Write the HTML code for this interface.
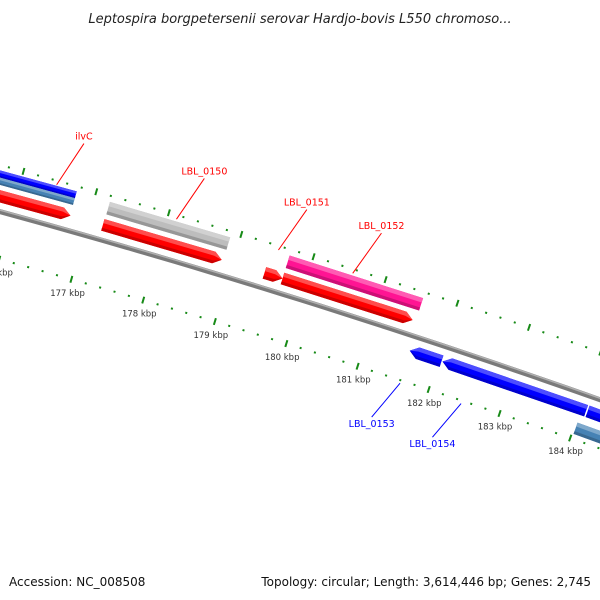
<!DOCTYPE html>
<html><head><meta charset="utf-8"><style>
html,body{margin:0;padding:0;background:#fff;width:600px;height:600px;overflow:hidden}
svg{display:block}
</style></head><body>
<svg id="map" width="600" height="600" viewBox="0 0 600 600" xmlns="http://www.w3.org/2000/svg">
<text x="300" y="23" text-anchor="middle" font-family="DejaVu Sans, sans-serif" font-style="italic" font-size="13" fill="#222">Leptospira borgpetersenii serovar Hardjo-bovis L550 chromoso...</text>
<g id="layer"></g>
<text x="9" y="586" font-family="DejaVu Sans, sans-serif" font-size="12" fill="#111">Accession: NC_008508</text>
<text x="591" y="586" text-anchor="end" font-family="DejaVu Sans, sans-serif" font-size="12" fill="#111">Topology: circular; Length: 3,614,446 bp; Genes: 2,745</text>
</svg>
<script>
const tickKbp=[172,173,174,175,176,177,178,179,180,181,182,183,184,185,186,187,188];
const featStart=[175000,175000,175000,177211,177204,179442,179693,179693,181597,182057,184100,184024];
const featEnd=[176757,176750,176750,178870,178849,179693,181506,181548,182043,184079,186500,186500];
const featStrand=[1,1,1,1,1,1,1,1,-1,-1,-1,-1];
const featRing=['r1','r2o','r2i','r2','r1','r1','r1','r2','m1','m1','m1','m2'];
const featColor=['#ff0000','#0000ff','#4682b4','#bdbdbd','#ff0000','#ff0000','#ff0000','#ff1493','#0000ff','#0000ff','#0000ff','#4682b4'];
const featArrow=[1,0,0,0,1,1,1,0,1,1,0,0];
const featNames=['ilvC-cds','ilvC-gene-blue','ilvC-gene-steel','lbl0150-gene','lbl0150-cds','small-cds','lbl0151-cds','lbl0152-gene','lbl0153-cds','lbl0154-cds','next-cds','next-gene'];
const labelText=['ilvC','LBL_0150','LBL_0151','LBL_0152','LBL_0153','LBL_0154'];
const labelBp=[176470,178120,179530,180560,181610,182470];
const labelColor=['#ff0000','#ff0000','#ff0000','#ff0000','#0000ff','#0000ff'];
const labelSide=[1,1,1,1,-1,-1];

const NS='http://www.w3.org/2000/svg';
const layer=document.getElementById('layer');
const CX=-2253,CY=8447,R=8538;
const PHI0=Math.atan2(300-CY,300-CX);
const K=75.2/(1000*R);
function pt(bp,r){const p=PHI0+(bp-180000)*K;return [CX+r*Math.cos(p),CY+r*Math.sin(p)];}
const rings={r1:[R+9,R+21],r2:[R+26,R+39],r2o:[R+33,R+40],r2i:[R+26,R+33],m1:[R-21,R-9],m2:[R-41,R-29]};
function mk(tag,attrs){const e=document.createElementNS(NS,tag);for(const k in attrs)e.setAttribute(k,attrs[k]);layer.appendChild(e);return e;}
function arcPath(b0,b1,r){let d='';for(let b=b0;b<=b1;b+=250){const p=pt(b,r);d+=(d?'L':'M')+p[0].toFixed(2)+' '+p[1].toFixed(2);}return d;}

// backbone
let bb=mk('path',{d:arcPath(170000,190000,R),stroke:'#7a7a7a','stroke-width':5,fill:'none'});


let bb2=mk('path',{d:arcPath(170000,190000,R+1.5),stroke:'#b0b0b0','stroke-width':1.5,fill:'none'});



// ticks
[R+45,R-46].forEach((rr,ri)=>{
  for(let i=0;i<tickKbp.length-1;i++){
    for(let j=0;j<5;j++){
      const b=tickKbp[i]*1000+j*200;
      const major=j===0;
      const a=pt(b,rr-(major?3.5:1)),c=pt(b,rr+(major?3.5:1));
      const t=mk('line',{x1:a[0],y1:a[1],x2:c[0],y2:c[1],stroke:'#178a17','stroke-width':2});
      
      
    }
  }
});
tickKbp.forEach(k=>{
  const p=pt(k*1000,R-60);
  const t=mk('text',{x:p[0],y:p[1]+3,'text-anchor':'middle','font-family':'DejaVu Sans, sans-serif','font-size':'8.5',fill:'#333'});
  t.textContent=k+' kbp';
  
  
});

// features
function shade(c,f){const n=parseInt(c.slice(1),16);let r=n>>16,g=(n>>8)&255,b=n&255;
  if(f>0){r=r+(255-r)*f;g=g+(255-g)*f;b=b+(255-b)*f;}else{r*=1+f;g*=1+f;b*=1+f;}
  return 'rgb('+Math.round(r)+','+Math.round(g)+','+Math.round(b)+')';}
featStart.forEach((s,i)=>{
  const e=featEnd[i],[ri,ro]=rings[featRing[i]],st=featStrand[i];
  const tip=featArrow[i]?110:0;
  const mid=(ri+ro)/2;
  function poly(r0,r1){
    let pts=[];
    if(st>0){
      const bEnd=e-tip;
      pts.push(pt(s,r0),pt(s,r1),pt(bEnd,r1));
      if(tip)pts.push(pt(e,mid));
      pts.push(pt(bEnd,r0));
    } else {
      const bS=s+tip;
      pts.push(pt(e,r0),pt(e,r1),pt(bS,r1));
      if(tip)pts.push(pt(s,mid));
      pts.push(pt(bS,r0));
    }
    return pts.map(p=>p[0].toFixed(2)+','+p[1].toFixed(2)).join(' ');
  }
  const g=mk('polygon',{points:poly(ri,ro),fill:featColor[i]});
  
  
  const h=mk('polygon',{points:poly(ro-(ro-ri)*0.35,ro),fill:shade(featColor[i],0.3)});
  
  
  const d=mk('polygon',{points:poly(ri,ri+(ro-ri)*0.25),fill:shade(featColor[i],-0.2)});
  
  
});

// labels
labelText.forEach((txt,i)=>{
  const side=labelSide[i];
  const a=pt(labelBp[i],side>0?R+41:R-49);
  const b=pt(labelBp[i]+(side>0?200:-220),side>0?R+88:R-90);
  const l=mk('line',{x1:a[0],y1:a[1],x2:b[0],y2:b[1],stroke:labelColor[i],'stroke-width':1});
  
  
  const t=mk('text',{x:b[0],y:side>0?b[1]-4:b[1]+10,'text-anchor':'middle','font-family':'DejaVu Sans, sans-serif','font-size':'9.5',fill:labelColor[i]});
  t.textContent=txt;
  
  
});
</script>
</body></html>
